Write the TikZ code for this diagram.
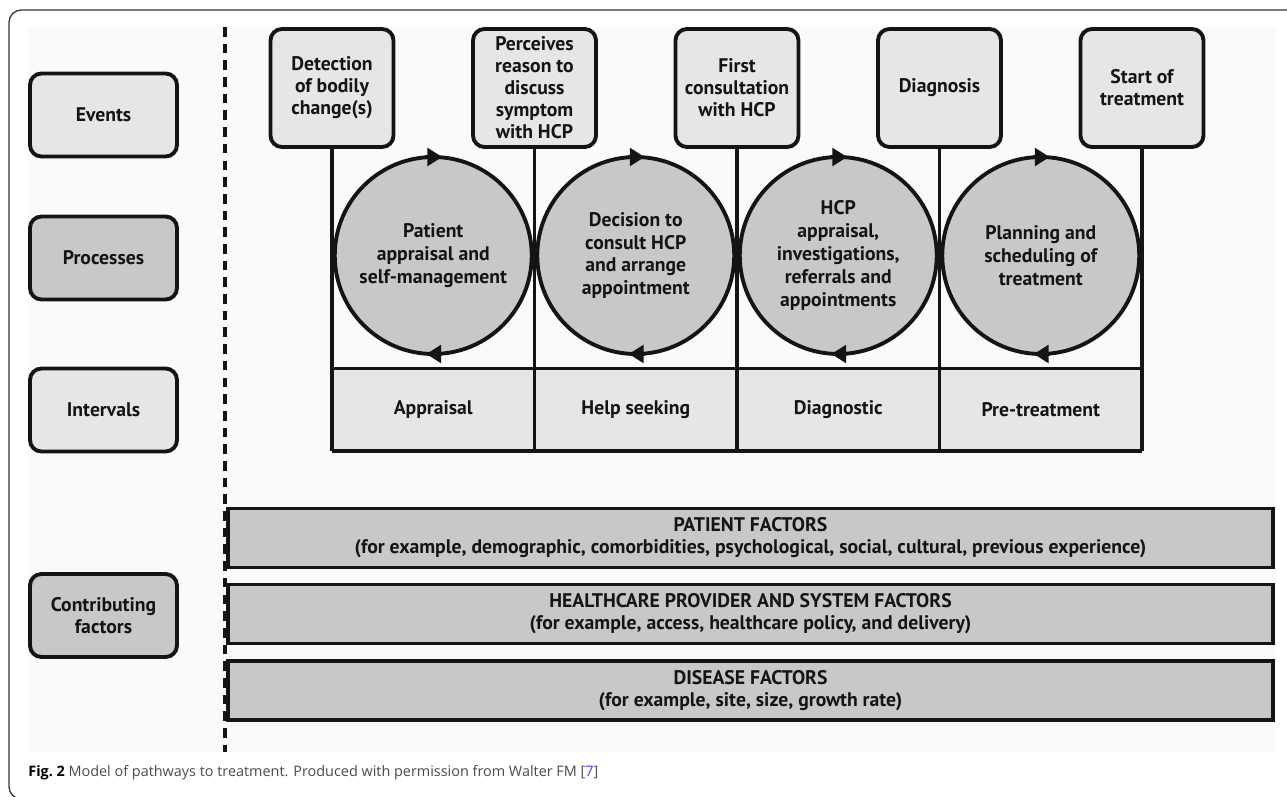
\documentclass[tikz,border=0pt]{standalone}
\usepackage{fontspec}
\setmainfont{Open Sans}
\newfontfamily\dinfont{PT Sans}
\usepackage{xcolor}
\usetikzlibrary{arrows.meta, positioning}

\definecolor{ink}{HTML}{141414}
\definecolor{lightgrey}{HTML}{E6E6E6}
\definecolor{midgrey}{HTML}{C8C8C8}
\definecolor{panel}{HTML}{FAFAFA}
\definecolor{captext}{HTML}{4A4A4A}
\definecolor{reflink}{HTML}{3344EE}

\tikzset{
  txt/.style={font=\dinfont\bfseries\fontsize{11.2}{12.5}\selectfont, align=center, text=ink},
  legend/.style={txt, draw=ink, line width=2.2pt, rounded corners=6.5pt, minimum width=2.94cm, minimum height=1.66cm},
  event/.style={txt, draw=ink, fill=lightgrey, line width=2.2pt, rounded corners=6.5pt, minimum width=2.46cm, minimum height=2.36cm, inner sep=1pt},
  process/.style={txt, font=\dinfont\bfseries\fontsize{11.2}{13}\selectfont, circle, draw=ink, fill=midgrey, line width=2.2pt, minimum size=3.94cm, inner sep=0pt, outer sep=0pt},
  interval/.style={txt, fill=lightgrey, minimum width=4.05cm, minimum height=1.64cm, inner sep=0pt},
  factor/.style={txt, draw=ink, fill=midgrey, line width=2.2pt, minimum width=20.9cm, minimum height=1.18cm, inner sep=0pt},
  rule/.style={draw=ink, line width=1.8pt},
  turn/.style={draw=ink, line width=2.2pt, -{Triangle[length=8.5pt, width=10pt]}}
}

\begin{document}
\begin{tikzpicture}[x=0.02cm, y=-0.02cm]
    \useasboundingbox (0,0) rectangle (1287,797);
    \fill[panel] (28,27) rectangle (1276,752);
    \draw[draw=ink!85, line width=0.75pt, rounded corners=7pt] (1290,10) -- (9,10) -- (9,799) -- (1290,799);

    % left column
    \node[legend, fill=lightgrey] (events) at (103.5,115) {Events};
    \node[legend, fill=midgrey] (processes) at (103.5,258) {Processes};
    \node[legend, fill=lightgrey] (intervals) at (103.5,410) {Intervals};
    \node[legend, fill=midgrey] (contrib) at (103.5,615.5) {Contributing\\factors};

    \draw[ink, line width=2.2pt, dash pattern=on 5.5pt off 4pt] (225,27) -- (225,752);

    % events
    \node[event] (ev1) at (332,88) {Detection\\of bodily\\change(s)};
    \node[event] (ev2) at (534.5,88) {Perceives\\reason to\\discuss\\symptom\\with HCP};
    \node[event] (ev3) at (737,88) {First\\consultation\\with HCP};
    \node[event] (ev4) at (939.5,88) {Diagnosis};
    \node[event] (ev5) at (1142,88) {Start of\\treatment};

    % intervals
    \node[interval] (int1) at (433.25,409.5) {Appraisal};
    \node[interval] (int2) at (635.75,409.5) {Help seeking};
    \node[interval] (int3) at (838.25,409.5) {Diagnostic};
    \node[interval] (int4) at (1040.75,409.5) {Pre-treatment};

    % processes
    \node[process] (proc1) at (433.25,255.5) {Patient\\appraisal and\\self-management};
    \node[process] (proc2) at (635.75,255.5) {Decision to\\consult HCP\\and arrange\\appointment};
    \node[process] (proc3) at (838.25,255.5) {HCP\\appraisal,\\investigations,\\referrals and\\appointments};
    \node[process] (proc4) at (1040.75,255.5) {Planning and\\scheduling of\\treatment};

    \foreach \i in {1,...,5}
      \draw[rule] (ev\i.south) -- (ev\i.south |- int1.south);
    \draw[rule] (int1.north west) -- (int4.north east);
    \draw[rule, line width=2.6pt] (int1.south west) -- (int4.south east);

    \foreach \i in {1,...,4} {
      \draw[turn] (proc\i.north) ++(-8,0) -- ++(17,0);
      \draw[turn] (proc\i.south) ++(9,0) -- ++(-16,0);
    }

    % contributing factors
    \node[factor] (patient) at (750.5,538) {PATIENT FACTORS\\(for example, demographic, comorbidities, psychological, social, cultural, previous experience)};
    \node[factor] (provider) at (750.5,614) {HEALTHCARE PROVIDER AND SYSTEM FACTORS\\(for example, access, healthcare policy, and delivery)};
    \node[factor] (disease) at (750.5,690.5) {DISEASE FACTORS\\(for example, site, size, growth rate)};

    \node[anchor=base west, inner sep=0pt, text=captext, font=\fontsize{8.2}{10}\selectfont] (caption) at (28,776)
      {\textbf{\color{black}Fig.~2} Model of pathways to treatment. Produced with permission from Walter FM [{\color{reflink}7}]};
\end{tikzpicture}
\end{document}
